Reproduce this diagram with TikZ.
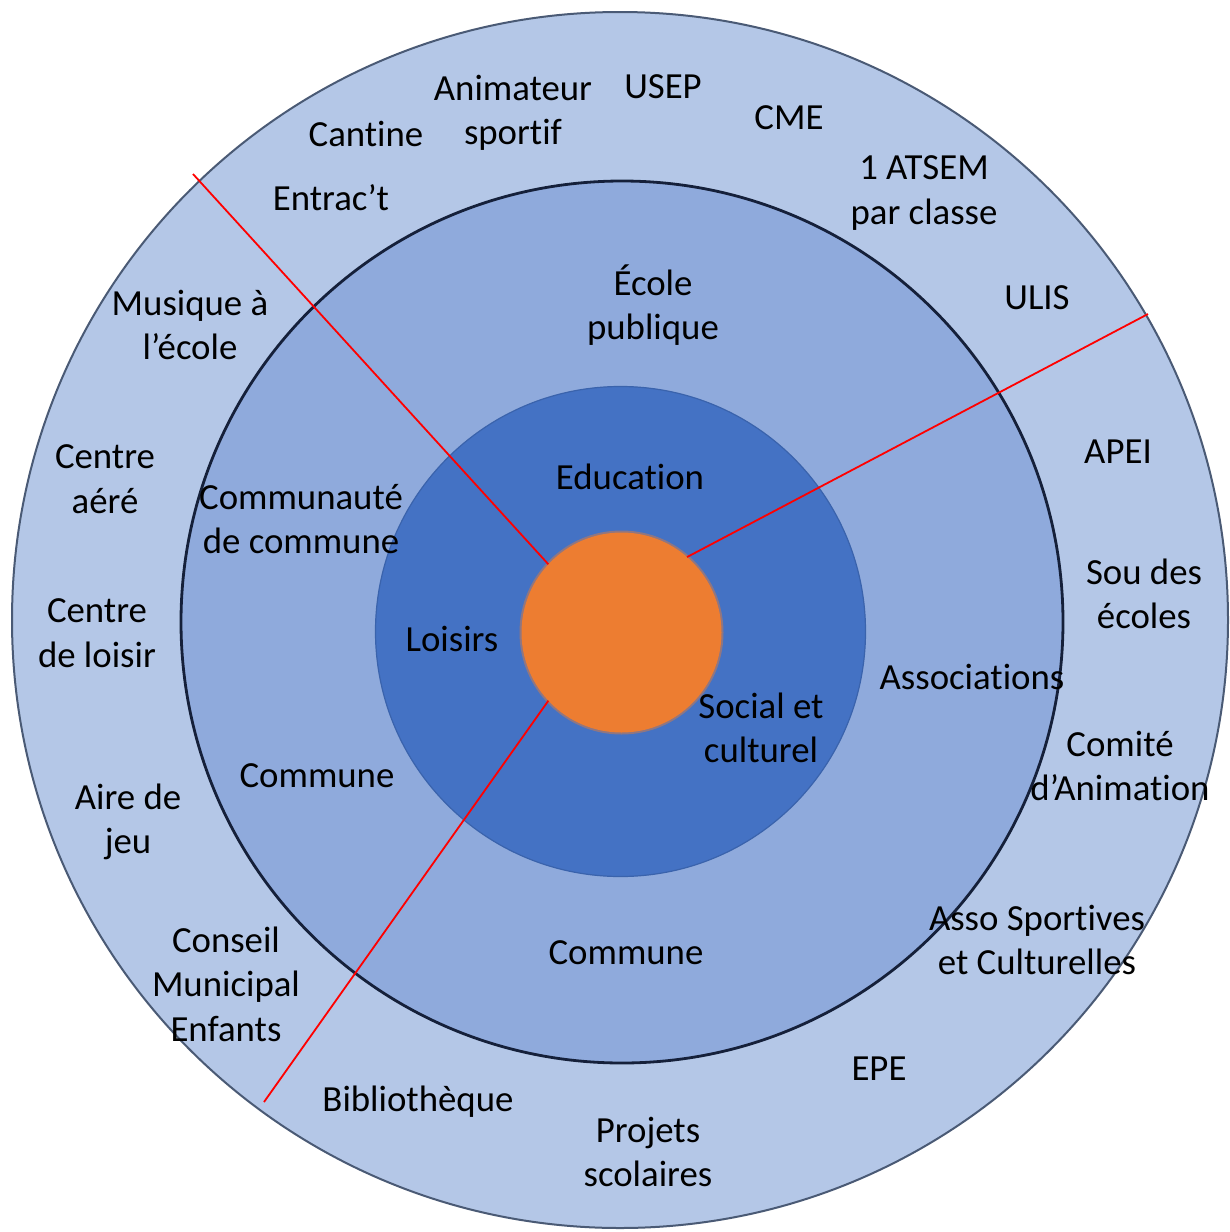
\documentclass[tikz,border=0pt]{standalone}
\usepackage{fontspec}
\setmainfont{Carlito}[Ligatures=NoCommon]
\definecolor{outerc}{HTML}{B4C7E7}
\definecolor{midc}{HTML}{8FAADC}
\definecolor{innerc}{HTML}{4472C4}
\definecolor{corec}{HTML}{ED7D31}
\definecolor{outerline}{HTML}{4A5A75}
\definecolor{midline}{HTML}{15203A}
\definecolor{innerline}{HTML}{3A63AC}
\begin{document}
\begin{tikzpicture}[x=0.5pt,y=-0.5pt,
  lbl/.style={font=\fontsize{18.4}{22.3}\selectfont, align=center, inner sep=0pt, text=black},
  ring/.style={circle, inner sep=0pt, outer sep=0pt},
  sep/.style={draw=red, line width=0.9pt}]
\useasboundingbox (0,0) rectangle (1230,1232);
\fill[white] (0,0) rectangle (1230,1232);
% rings
\node[ring, minimum size=608pt, fill=outerc, draw=outerline, line width=1pt] (outer) at (620,620) {};
\node[ring, minimum size=441pt, fill=midc, draw=midline, line width=1.4pt] (middle) at (622,622) {};
\node[ring, minimum size=245pt, fill=innerc, draw=innerline, line width=0.6pt] (inner) at (620.5,631.5) {};
\node[ring, minimum size=102pt, fill=corec, opacity=0.45] (coreglow) at (621.5,632.5) {};
\node[ring, minimum size=100pt, fill=corec] (core) at (621.5,632.5) {};
% separator lines
\coordinate (s1) at (193,174);
\coordinate (s2) at (1148,314);
\coordinate (s3) at (264,1102);
\draw[sep] (s1) -- (core.137);
\draw[sep] (s2) -- (core.49);
\draw[sep] (s3) -- (core.223);
% outer ring labels
\node[lbl] (animateur) at (513,113) {Animateur\\sportif};
\node[lbl] (usep) at (663,87) {USEP};
\node[lbl] (cantine) at (366,134) {Cantine};
\node[lbl] (cme) at (789,118) {CME};
\node[lbl] (atsem) at (924,193) {1 ATSEM\\par classe};
\node[lbl] (entract) at (331,198) {Entrac’t};
\node[lbl] (ulis) at (1037,298) {ULIS};
\node[lbl] (musique) at (190,325) {Musique à\\l’école};
\node[lbl] (aere) at (105,479) {Centre\\aéré};
\node[lbl] (apei) at (1118,452) {APEI};
\node[lbl] (sou) at (1144,594) {Sou des\\écoles};
\node[lbl] (loisir) at (97,633) {Centre\\de loisir};
\node[lbl] (comite) at (1120,766) {Comité\\d’Animation};
\node[lbl] (aire) at (128,822) {Aire de\\jeu};
\node[lbl] (asso) at (1037,940) {Asso Sportives\\et Culturelles};
\node[lbl] (conseil) at (226,984) {Conseil\\Municipal\\Enfants};
\node[lbl] (epe) at (879,1069) {EPE};
\node[lbl] (biblio) at (418,1102) {Bibliothèque};
\node[lbl] (projets) at (648,1152) {Projets\\scolaires};
% middle ring labels
\node[lbl] (ecole) at (653,305) {École\\publique};
\node[lbl] (communaute) at (301,519) {Communauté\\de commune};
\node[lbl] (associations) at (972,677) {Associations};
\node[lbl] (communeL) at (317,776) {Commune};
\node[lbl] (communeB) at (626,953) {Commune};
% inner ring labels
\node[lbl] (education) at (630,477) {Education};
\node[lbl] (loisirs) at (452,639) {Loisirs};
\node[lbl] (social) at (761,728) {Social et\\culturel};
\end{tikzpicture}
\end{document}
